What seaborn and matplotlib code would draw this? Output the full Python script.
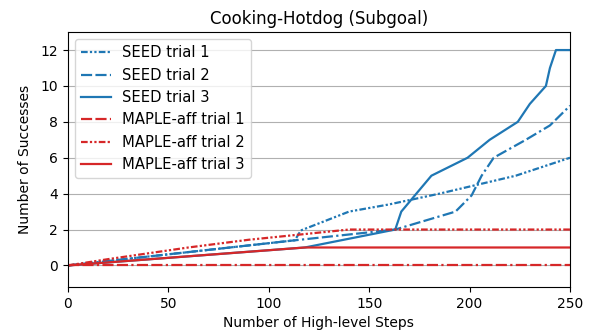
import matplotlib
matplotlib.use("Agg")
import matplotlib.pyplot as plt
import seaborn as sns

# SEED trials (x = high-level steps, y = cumulative successes)
seed1_x = [0, 113, 116, 140, 160, 185, 223, 250]
seed1_y = [0, 1.4, 1.95, 3.0, 3.4, 4.0, 5.0, 6.0]
seed2_x = [0, 113, 163, 193, 201, 206, 212, 228, 240, 250]
seed2_y = [0, 1.4, 2.0, 3.0, 3.9, 5.0, 6.0, 7.0, 7.8, 8.9]
seed3_x = [0, 118, 163, 166, 181, 199, 210, 224, 230, 238, 240, 243, 250]
seed3_y = [0, 1.0, 2.0, 3.0, 5.0, 6.0, 7.0, 8.0, 9.0, 10.0, 11.0, 12.0, 12.0]

# MAPLE-aff trials
maple1_x = [0, 250]
maple1_y = [0, 0]
maple2_x = [0, 20, 60, 90, 140, 250]
maple2_y = [0, 0.35, 1.0, 1.43, 2.0, 2.0]
maple3_x = [0, 118, 250]
maple3_y = [0, 1.0, 1.0]

xticks = [0, 50, 100, 150, 200, 250]
yticks = [0, 2, 4, 6, 8, 10, 12]

blue = "#1f77b4"
red = "#d62728"
dash_dot_dot = (0, (3, 1, 1, 1, 1, 1))
long_dash_dot = (0, (5, 1.5, 5, 1.5, 1, 1.5))

series = [
    ("SEED trial 1", seed1_x, seed1_y, blue, dash_dot_dot),
    ("SEED trial 2", seed2_x, seed2_y, blue, long_dash_dot),
    ("SEED trial 3", seed3_x, seed3_y, blue, "-"),
    ("MAPLE-aff trial 1", maple1_x, maple1_y, red, long_dash_dot),
    ("MAPLE-aff trial 2", maple2_x, maple2_y, red, dash_dot_dot),
    ("MAPLE-aff trial 3", maple3_x, maple3_y, red, "-"),
]

fig, ax = plt.subplots(figsize=(5.95, 3.31), dpi=100)
fig.subplots_adjust(left=0.114, right=0.958, top=0.903, bottom=0.133)

for label, xs, ys, color, ls in series:
    sns.lineplot(x=xs, y=ys, ax=ax, color=color, linestyle=ls, linewidth=1.6, label=label)

ax.set_xlim(0, 250)
ax.set_ylim(-1.2, 13)
ax.set_xticks(xticks)
ax.set_yticks(yticks)
ax.grid(axis="y", color="#b0b0b0", linewidth=0.8)
ax.set_axisbelow(True)
ax.set_xlabel("Number of High-level Steps")
ax.set_ylabel("Number of Successes", labelpad=6)
ax.set_title("Cooking-Hotdog (Subgoal)")
ax.legend(loc="upper left", fontsize=10.6)

plt.savefig("out.png", dpi=100)
plt.close(fig)
